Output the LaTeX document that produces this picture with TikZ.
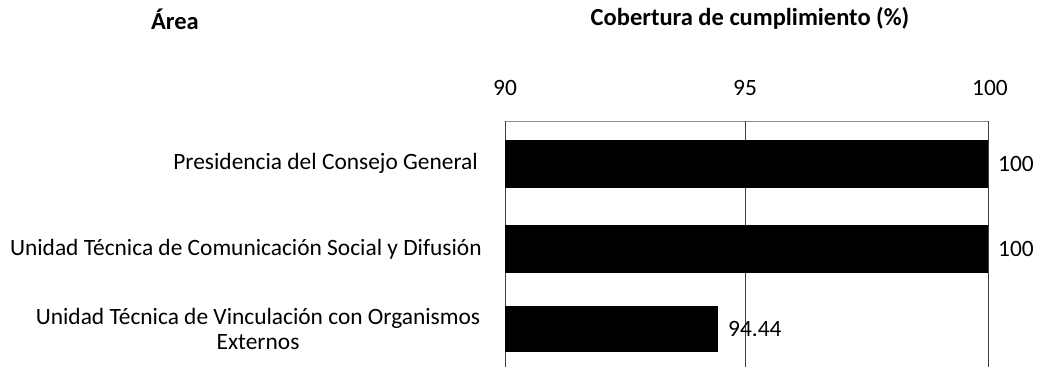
\documentclass[tikz,border=0pt]{standalone}
\usepackage{fontspec}
\setmainfont{Carlito}
\usetikzlibrary{positioning}

\tikzset{
  lbl/.style={inner sep=0pt, font=\fontsize{23.4}{27}\selectfont},
  head/.style={lbl, font=\fontsize{24.5}{28}\selectfont\bfseries},
  bar/.style={fill=black, draw=none},
  grid/.style={line width=0.8pt, draw=black!75}
}

\begin{document}
\begin{tikzpicture}[x=1pt,y=-1pt]
  \useasboundingbox (0,0) rectangle (1042,367);

  % headings
  \node[head] (area) at (175,19) {Área};
  \node[head] (cob) at (750,18) {Cobertura de cumplimiento (\%)};

  % axis ticks
  \node[lbl] (t90) at (505,88) {90};
  \node[lbl] (t95) at (745,88) {95};
  \node[lbl] (t100) at (990,88) {100};

  % frame and grid
  \coordinate (top90) at (505,121);
  \coordinate (top95) at (745,121);
  \coordinate (top100) at (988,121);
  \coordinate (bot90) at (505,367);
  \coordinate (bot95) at (745,367);
  \coordinate (bot100) at (988,367);
  \draw[grid, draw=black!45] (top90) -- (top100);
  \draw[grid] (top90) -- (bot90);
  \draw[grid] (top95) -- (bot95);
  \draw[grid] (top100) -- (bot100);

  % bars
  \fill[bar] (505,140) rectangle (988,188);
  \fill[bar] (505,225) rectangle (988,273);
  \fill[bar] (505,306) rectangle (718,352);

  % values
  \node[lbl, anchor=west] (v1) at (998,164) {100};
  \node[lbl, anchor=west] (v2) at (998,249) {100};
  \node[lbl, anchor=west] (v3) at (728,329) {94.44};

  % categories
  \node[lbl, anchor=east] (c1) at (478,163) {Presidencia del Consejo General};
  \node[lbl, anchor=east] (c2) at (482,249) {Unidad Técnica de Comunicación Social y Difusión};
  \node[lbl, align=center] (c3) at (258,329) {Unidad Técnica de Vinculación con Organismos\\[-2pt]Externos};
\end{tikzpicture}
\end{document}
